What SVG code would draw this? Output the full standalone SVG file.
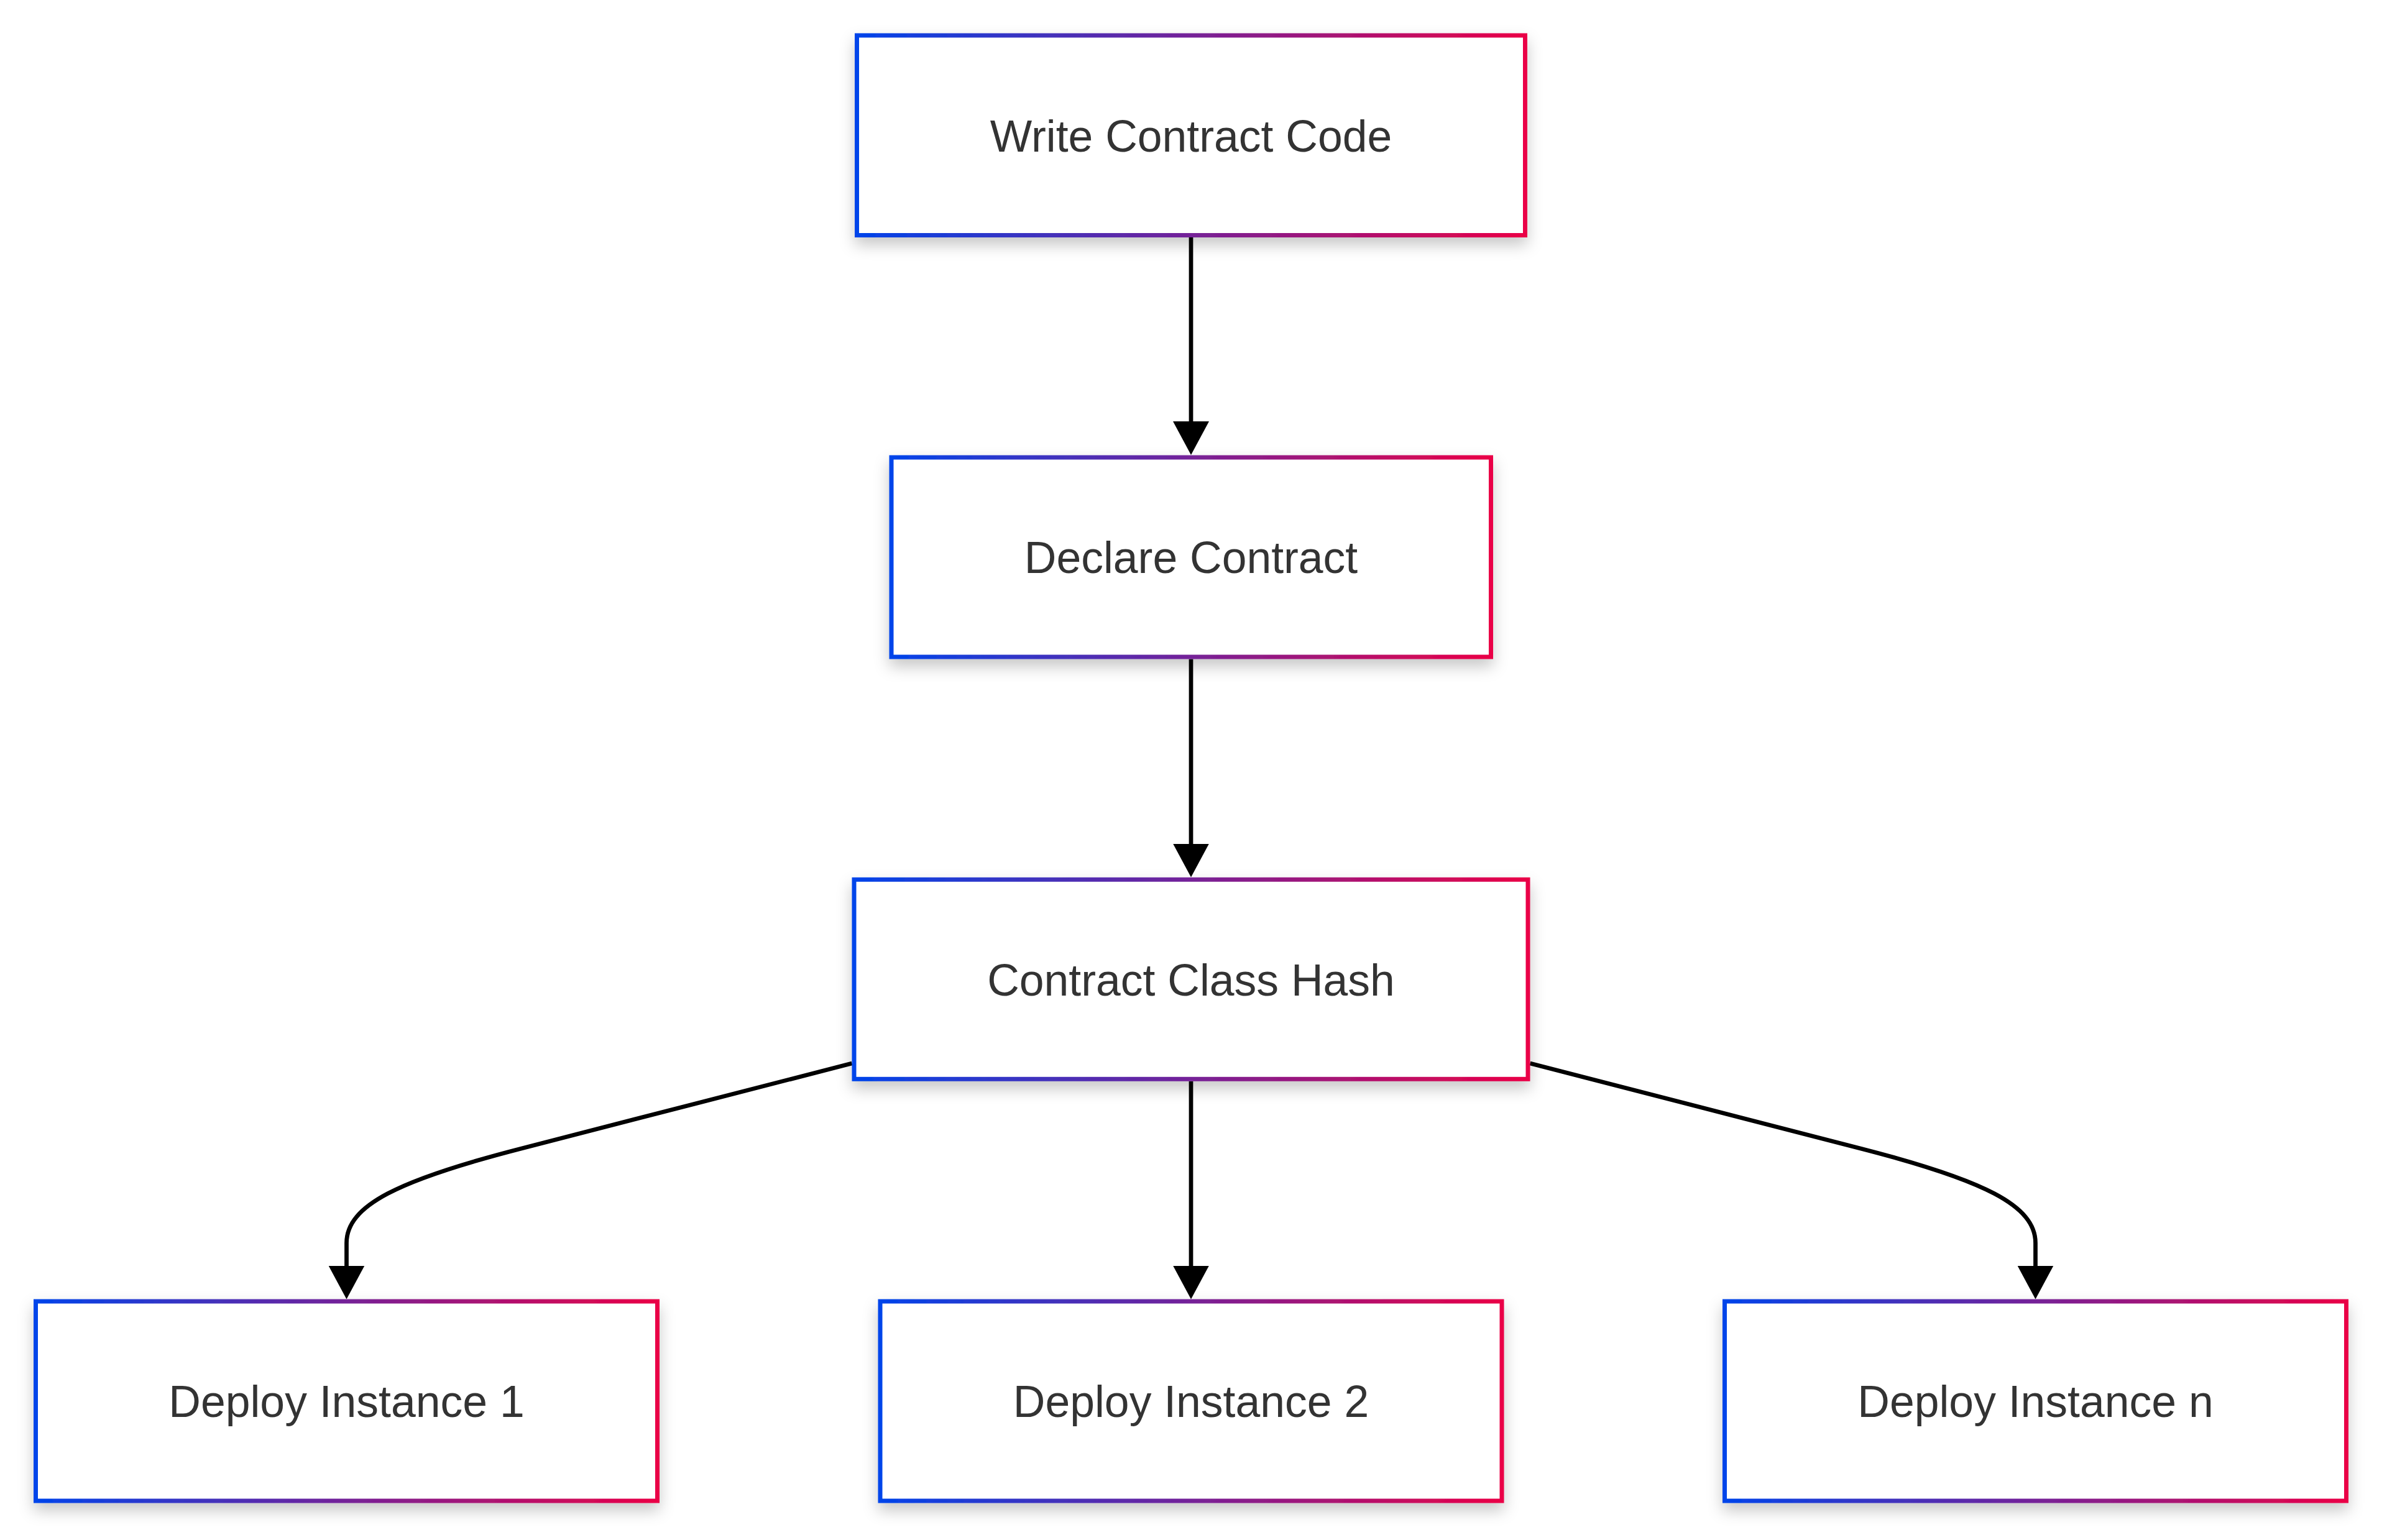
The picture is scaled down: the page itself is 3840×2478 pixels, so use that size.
<svg xmlns="http://www.w3.org/2000/svg" width="3840" height="2478" viewBox="0 0 3840 2478">
  <defs>
    <style>
      .box { fill: #ffffff; stroke: url(#grad); stroke-width: 7; filter: url(#shadow); }
      .label { font-family: "Liberation Sans", Arial, Helvetica, sans-serif; font-size: 71.5px; fill: #333333; text-anchor: middle; }
      .edge { fill: none; stroke: #000000; stroke-width: 6.75; marker-end: url(#arrow); }
    </style>
    <linearGradient id="grad" x1="0" y1="0" x2="1" y2="0" gradientUnits="objectBoundingBox">
      <stop offset="0" stop-color="#0044EA"/>
      <stop offset="1" stop-color="#EA0046"/>
    </linearGradient>
    <filter id="shadow" x="-10%" y="-20%" width="120%" height="150%">
      <feDropShadow dx="0" dy="12" stdDeviation="12" flood-color="#000000" flood-opacity="0.22"/>
    </filter>
    <marker id="arrow" viewBox="0 0 54 58" refX="8" refY="29" markerWidth="54" markerHeight="58" markerUnits="userSpaceOnUse" orient="auto">
      <path d="M0,0 L54,29 L0,58 Z" fill="#000000"/>
    </marker>
  </defs>
  <rect width="3840" height="2478" fill="#ffffff"/>

  <g id="connectors">
    <path class="edge" d="M1916,382 L1916,686"/>
    <path class="edge" d="M1916,1060.5 L1916,1365.5"/>
    <path class="edge" d="M1916,1740 L1916,2044.5"/>
    <path class="edge" d="M1370.5,1711 L840,1847.7 C640,1899 557.5,1940 557.5,2000 L557.5,2044.5"/>
    <path class="edge" d="M2461.5,1711 L2992,1847.7 C3192,1899 3274.5,1940 3274.5,2000 L3274.5,2044.5"/>
  </g>

  <g id="node-write">
    <rect class="box" x="1378.5" y="57" width="1075" height="321.5"/>
    <text class="label" x="1916" y="243.5">Write Contract Code</text>
  </g>
  <g id="node-declare">
    <rect class="box" x="1434" y="736" width="964.5" height="321"/>
    <text class="label" x="1916" y="922.3">Declare Contract</text>
  </g>
  <g id="node-hash">
    <rect class="box" x="1374" y="1415.3" width="1084" height="321"/>
    <text class="label" x="1916" y="1601.6">Contract Class Hash</text>
  </g>
  <g id="node-deploy1">
    <rect class="box" x="57.5" y="2094" width="1000" height="321"/>
    <text class="label" x="557.5" y="2280.3">Deploy Instance 1</text>
  </g>
  <g id="node-deploy2">
    <rect class="box" x="1416" y="2094" width="1000" height="321"/>
    <text class="label" x="1916" y="2280.3">Deploy Instance 2</text>
  </g>
  <g id="node-deployn">
    <rect class="box" x="2774.5" y="2094" width="1000" height="321"/>
    <text class="label" x="3274.5" y="2280.3">Deploy Instance n</text>
  </g>
</svg>
